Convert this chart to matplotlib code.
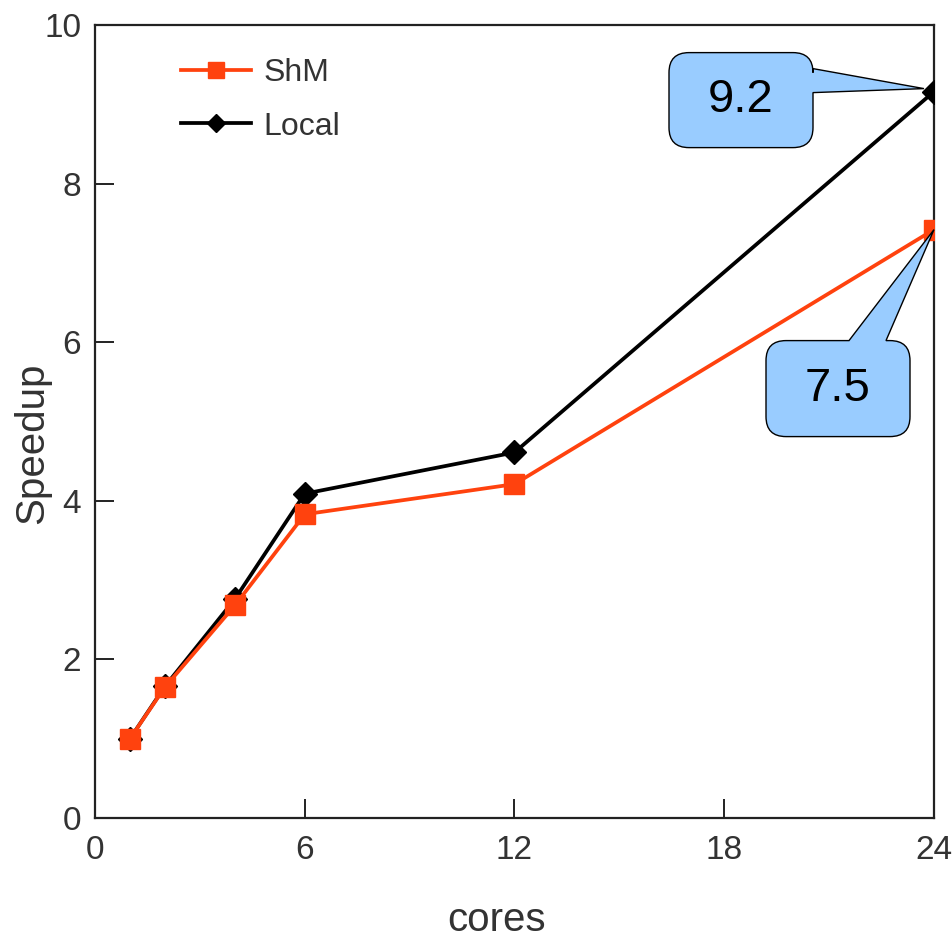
import matplotlib
matplotlib.use("Agg")
import matplotlib.pyplot as plt
from matplotlib.path import Path
from matplotlib.patches import PathPatch
from matplotlib.transforms import ScaledTranslation

plt.rcParams['font.family'] = ['Liberation Sans', 'DejaVu Sans']

cores = [1, 2, 4, 6, 12, 24]
shm = [1.00, 1.65, 2.68, 3.83, 4.21, 7.42]
local = [1.00, 1.66, 2.76, 4.09, 4.61, 9.16]
callout_labels = ["9.2", "7.5"]
x_ticks = [0, 6, 12, 18, 24]
y_ticks = [0, 2, 4, 6, 8, 10]

SHM_COLOR = '#ff420e'
DPI = 100

fig = plt.figure(figsize=(9.53, 9.39), dpi=DPI)
ax = fig.add_axes([95/953, 1-818/939, (934-95)/953, (818-25)/939])

ax.plot(cores, shm, color=SHM_COLOR, lw=2.7, marker='s', ms=15, mec=SHM_COLOR,
        mfc=SHM_COLOR, label='ShM', zorder=4)
ax.plot(cores, local, color='black', lw=2.7, marker='D', ms=12, mec='black',
        mfc='black', label='Local', zorder=3)

ax.set_xlim(0, 24)
ax.set_ylim(0, 10)
ax.set_xticks(x_ticks)
ax.set_yticks(y_ticks)
ax.tick_params(direction='in', length=14, width=1.4, labelsize=24,
               labelcolor='#333333', color='#222222')
ax.tick_params(axis='x', pad=12)
ax.tick_params(axis='y', pad=10)
for s in ax.spines.values():
    s.set_linewidth(1.6)
    s.set_color('#222222')

ax.set_xlabel('cores', fontsize=29, color='#333333')
ax.set_ylabel('Speedup', fontsize=29, color='#333333')
ax.xaxis.set_label_coords((497 - 95) / 839, (818 - 920) / 793)
ax.xaxis.label.set_va('center')
ax.yaxis.set_label_coords((32 - 95) / 839, (818 - 443) / 793)
ax.yaxis.label.set_va('center')
ax.yaxis.label.set_ha('center')

leg = ax.legend(loc='upper left', bbox_to_anchor=(0.068, 0.995), frameon=False,
                fontsize=23, handlelength=2.2, handletextpad=0.4,
                labelspacing=0.75, markerscale=0.8)
for t in leg.get_texts():
    t.set_color('#333333')


def callout_path(x0, y0, x1, y1, r, side, base, tip):
    """Rounded box with a wedge; coordinates in pixels relative to anchor."""
    verts = [(x0 + r, y0), (x1 - r, y0), (x1, y0), (x1, y0 + r)]
    codes = [Path.MOVETO, Path.LINETO, Path.CURVE3, Path.CURVE3]
    if side == 'right':
        verts += [(x1, base[0]), tip, (x1, base[1])]
        codes += [Path.LINETO] * 3
    verts += [(x1, y1 - r), (x1, y1), (x1 - r, y1)]
    codes += [Path.LINETO, Path.CURVE3, Path.CURVE3]
    if side == 'top':
        verts += [(base[1], y1), tip, (base[0], y1)]
        codes += [Path.LINETO] * 3
    verts += [(x0 + r, y1), (x0, y1), (x0, y1 - r), (x0, y0 + r), (x0, y0),
              (x0 + r, y0), (x0 + r, y0)]
    codes += [Path.LINETO, Path.CURVE3, Path.CURVE3, Path.LINETO, Path.CURVE3,
              Path.CURVE3, Path.CLOSEPOLY]
    verts = [(vx / DPI, vy / DPI) for vx, vy in verts]
    return Path(verts, codes)


specs = [
    (local[-1], callout_labels[0], (-265, -56, -121, 39), 'right', (-1, 23), (-10, 3)),
    (shm[-1], callout_labels[1], (-168, -207, -24, -111), 'top', (-85, -48), (0, 0)),
]
for yval, label, (x0, y0, x1, y1), side, base, tip in specs:
    trans = fig.dpi_scale_trans + ScaledTranslation(cores[-1], yval, ax.transData)
    p = callout_path(x0, y0, x1, y1, 20, side, base, tip)
    ax.add_patch(PathPatch(p, facecolor='#99ccff', edgecolor='black', lw=1.0,
                           transform=trans, zorder=6, clip_on=False))
    ax.text((x0 + x1) / 2 / DPI, (y0 + y1) / 2 / DPI, label, transform=trans,
            ha='center', va='center', fontsize=34, color='black', zorder=7)

fig.savefig('out.png', dpi=DPI)
